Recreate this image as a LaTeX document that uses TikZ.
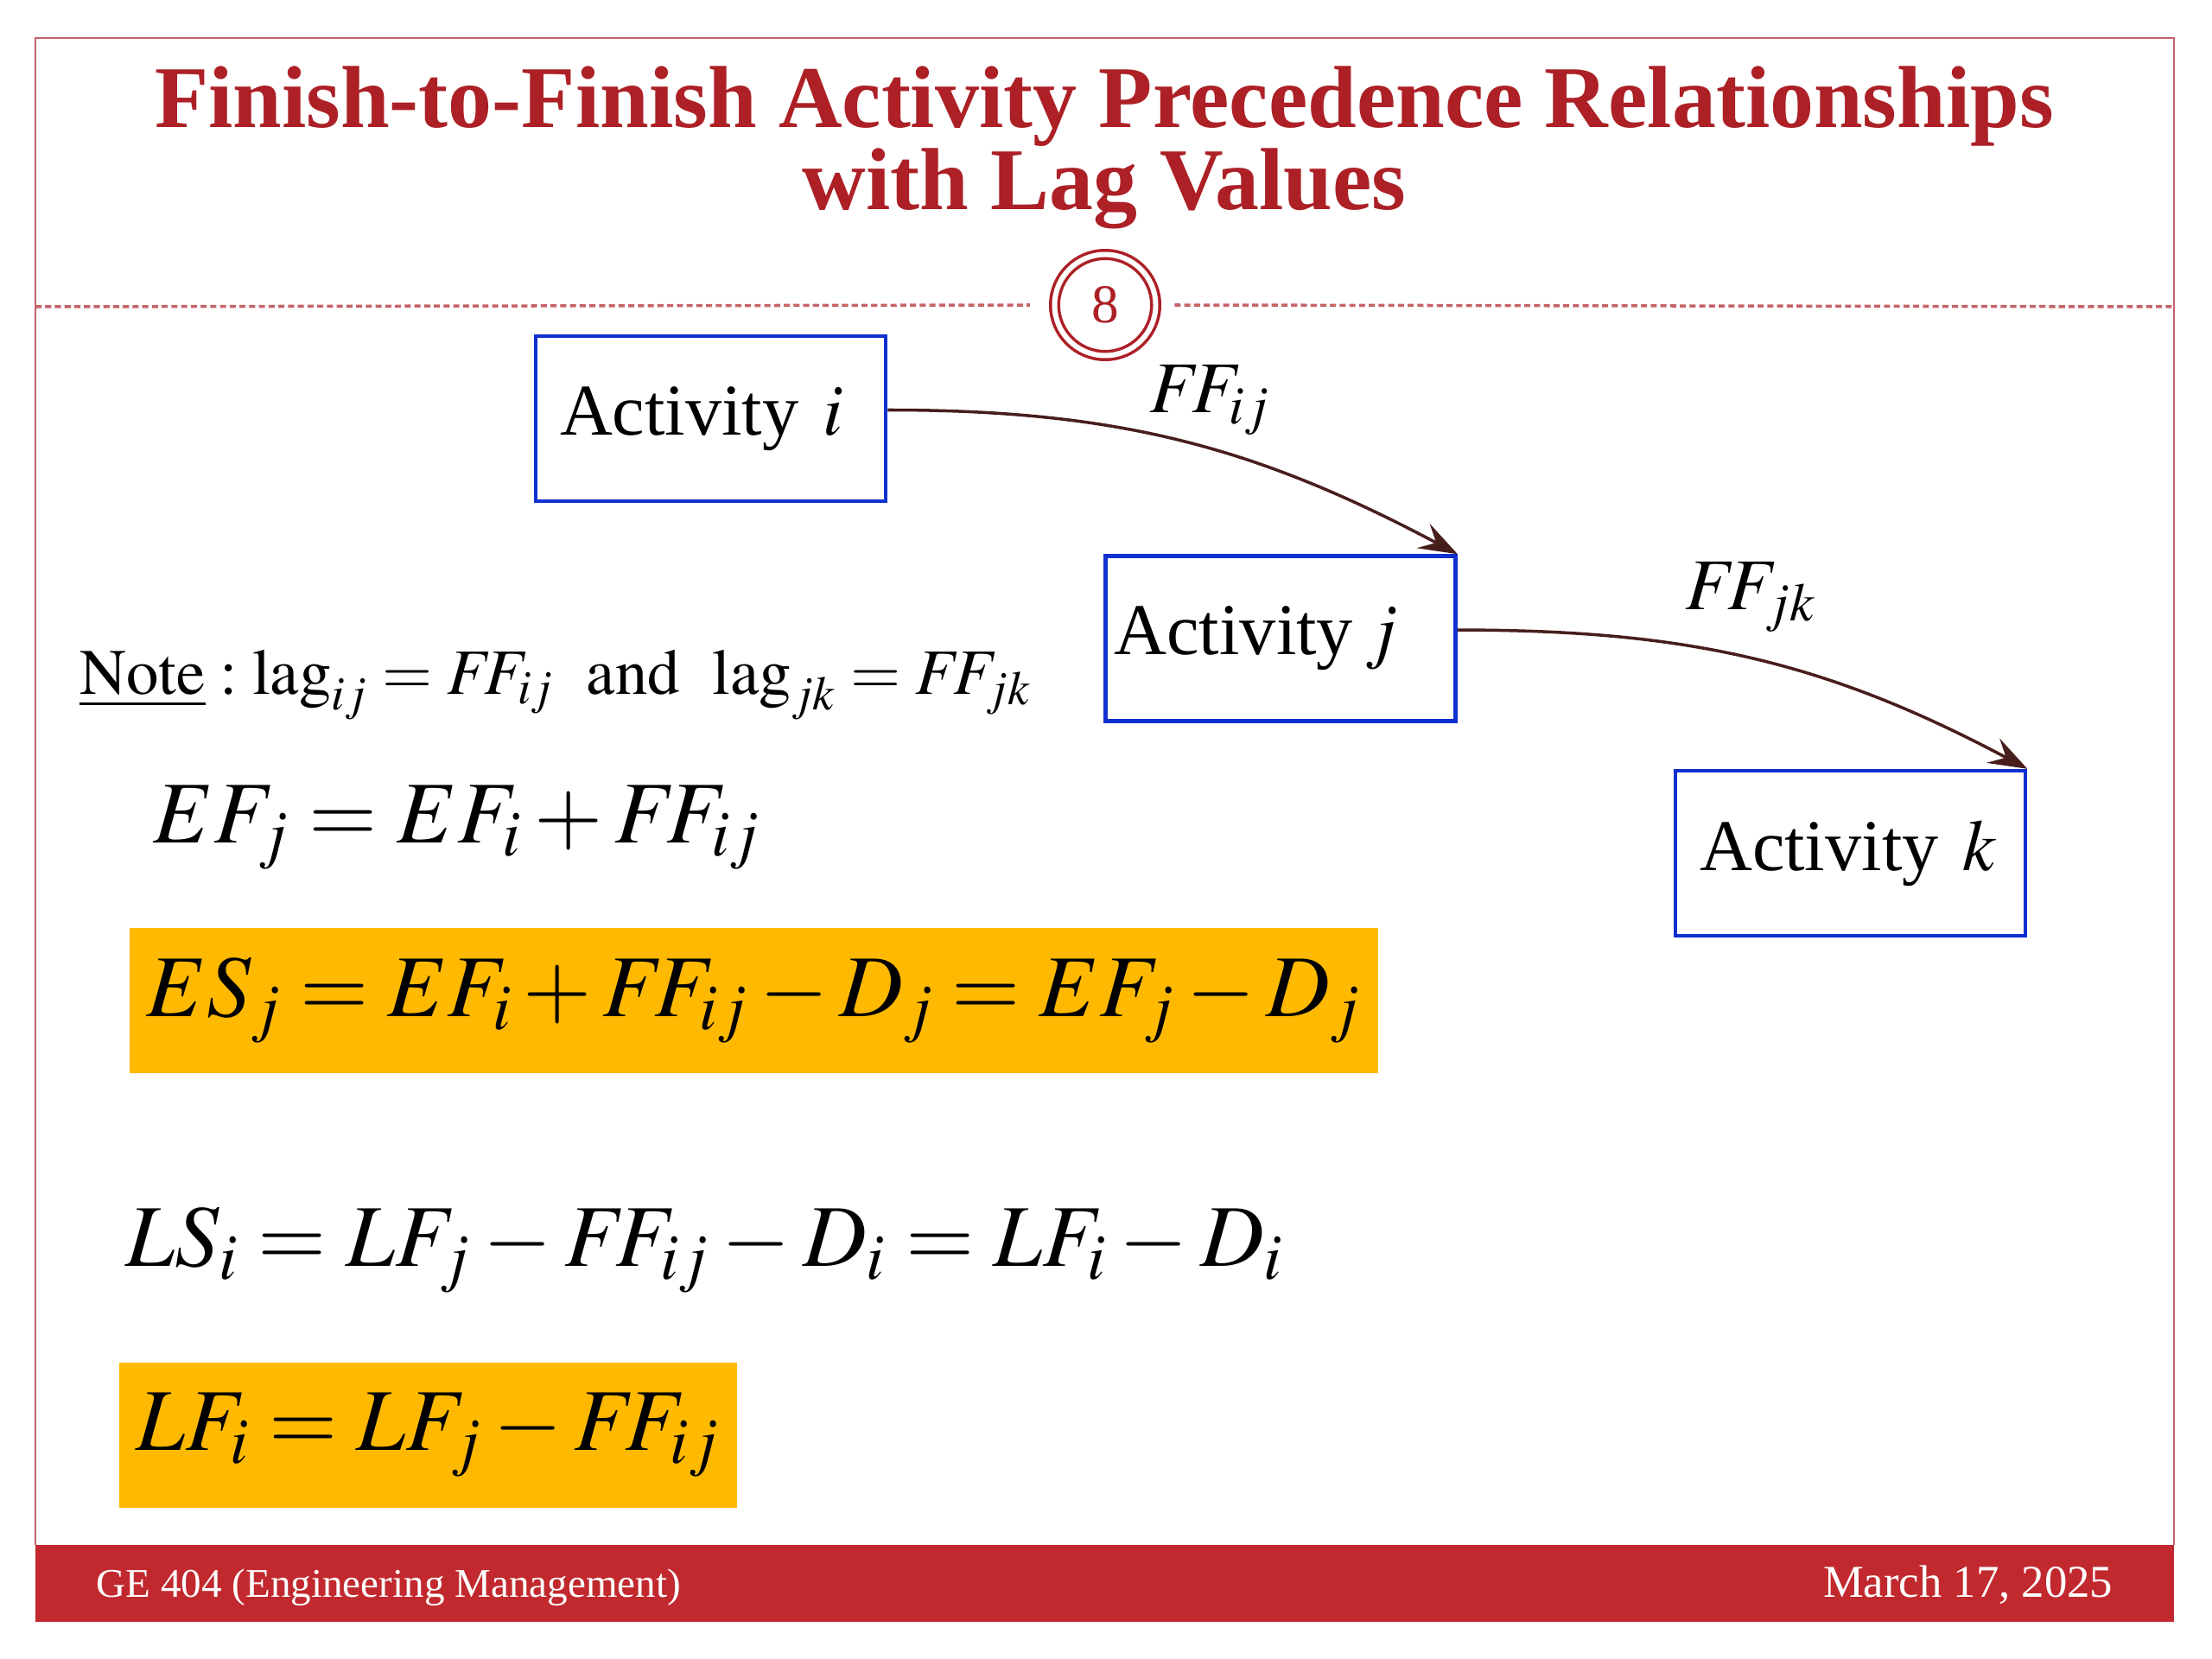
\documentclass[tikz,border=0pt]{standalone}
\usepackage{mathptmx}
\usepackage[no-math]{fontspec}
\setmainfont{Liberation Serif}
\usetikzlibrary{arrows.meta,positioning}
\definecolor{titlered}{RGB}{172,32,38}
\definecolor{barred}{RGB}{193,41,46}
\definecolor{hiorange}{RGB}{255,185,0}
\definecolor{boxblue}{RGB}{16,48,208}
\definecolor{arrowbrown}{RGB}{72,30,28}
\newcommand{\FFl}{F\!F}
\begin{document}
\begin{tikzpicture}[
  actbox/.style={draw=boxblue,line width=1.3pt,inner xsep=0.28cm,text width=3.49cm,align=left,minimum height=1.91cm,font=\fontsize{24}{28}\selectfont},
  hibox/.style={fill=hiorange,anchor=north west,inner xsep=0.2cm,minimum height=1.68cm,align=left,font=\fontsize{29}{34}\selectfont},
  eqn/.style={anchor=base west,font=\fontsize{29}{34}\selectfont},
  lbl/.style={anchor=base west,font=\fontsize{24}{28}\selectfont},
  lagarrow/.style={-{Stealth[length=4.5mm,width=3.2mm,inset=1.7mm]},line width=1pt,draw=arrowbrown},
  sepline/.style={titlered!70,line width=1pt,dash pattern=on 2pt off 1.2pt}
]
\useasboundingbox (0,0) rectangle (25.6,-19.2);
% slide frame and footer bar
\draw[titlered!70,line width=0.6pt] (0.41,-17.88) |- (25.16,-0.44) -- (25.16,-17.88);
\fill[barred] (0.41,-17.88) rectangle (25.16,-18.77);
\node[font=\bfseries\fontsize{29}{27}\selectfont,text=titlered,align=center] (title) at (12.78,-1.71)
  {Finish-to-Finish Activity Precedence Relationships\\with Lag Values};
\node[circle,draw=titlered,line width=1pt,double=white,double distance=1.7pt,minimum size=1.17cm,inner sep=0pt,
  text=titlered,font=\fontsize{18}{20}\selectfont] (pg) at (12.79,-3.53) {8};
\draw[sepline] (0.41,-3.55) -- ([xshift=-0.27cm]pg.west);
\draw[sepline] ([xshift=0.2cm]pg.east) -- (25.16,-3.55);
\node[anchor=base west,inner sep=0pt,text=white,font=\fontsize{13.4}{16}\selectfont] (course) at (1.11,-18.48) {GE 404 (Engineering Management)};
\node[anchor=base east,inner sep=0pt,text=white,font=\fontsize{15}{17}\selectfont] (date) at (24.46,-18.48) {March 17, 2025};

% activities
\node[actbox] (acti) at (8.225,-4.845) {Activity $i$};
\node[actbox,inner xsep=0.1cm,text width=3.85cm,below right=0.59cm and 2.50cm of acti] (actj) {Activity\,$j$};
\node[actbox,below right=0.53cm and 2.50cm of actj] (actk) {Activity $k$};
\draw[lagarrow] ([yshift=0.1cm]acti.east) to[out=0,in=152] (actj.north east);
\draw[lagarrow] ([yshift=0.1cm]actj.east) to[out=0,in=152] (actk.north east);
\node[lbl] (ffij) at (13.18,-4.78) {$\FFl_{ij}$};
\node[lbl] (ffjk) at (19.38,-7.05) {$\FFl_{jk}$};

% relations
\node[anchor=base west,font=\fontsize{21.3}{24}\selectfont] (note) at (0.80,-8.03)
  {$\underline{\mathrm{Note}}:\mathrm{lag}_{ij}=\FFl_{ij}\ \ \mathrm{and}\ \ \mathrm{lag}_{jk}=\FFl_{jk}$};
\node[eqn] (efj) at (1.65,-9.75) {$EF_j=EF_i+\FFl_{ij}$};
\node[hibox,text width=14.05cm] (esj) at (1.49,-10.73) {$ES_j=EF_i+\FFl_{ij}-D_j=EF_j-D_j$};
\node[eqn] (lsi) at (1.33,-14.65) {$LS_i=LF_j-\FFl_{ij}-D_i=LF_i-D_i$};
\node[hibox,text width=6.75cm] (lfi) at (1.37,-15.76) {$LF_i=LF_j-\FFl_{ij}$};
\end{tikzpicture}
\end{document}
